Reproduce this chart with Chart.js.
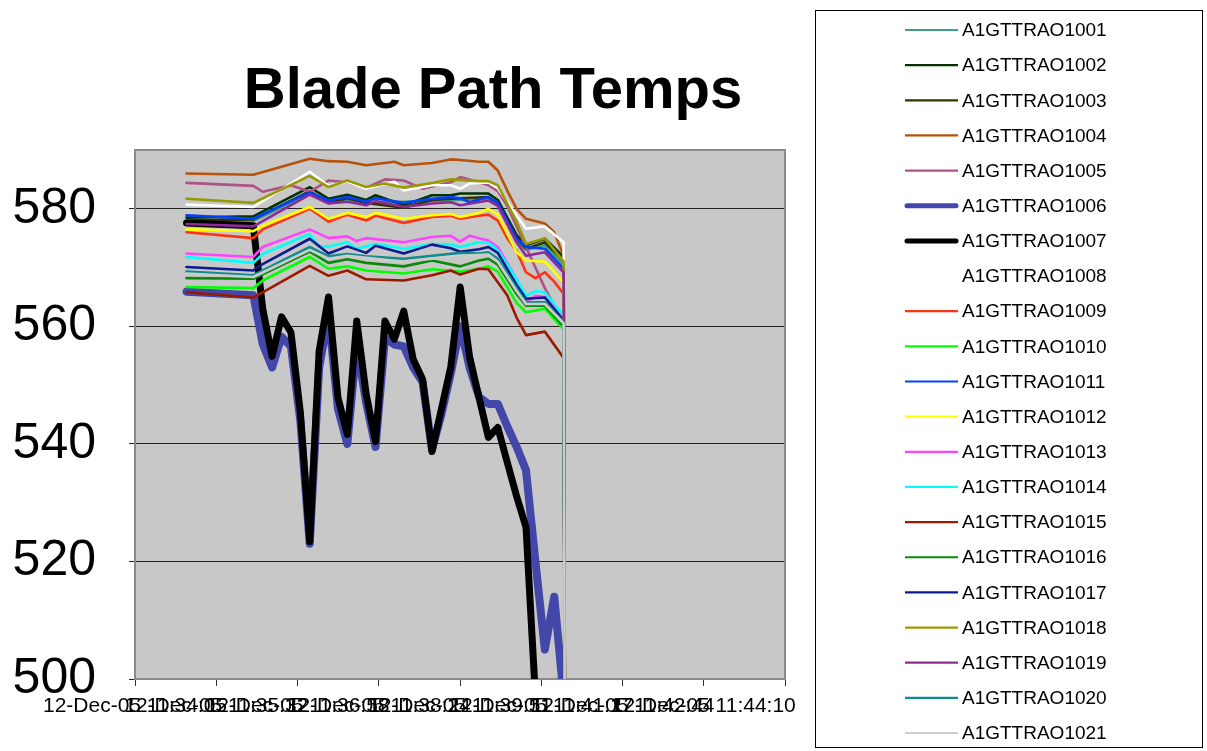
<!DOCTYPE html>
<html><head><meta charset="utf-8">
<script src="https://cdn.jsdelivr.net/npm/chart.js@4.4.1/dist/chart.umd.min.js"></script>
<style>html,body{margin:0;padding:0;background:#fff;} canvas{display:block;}</style>
</head><body>
<canvas id="c" width="1207" height="751"></canvas>
<script>
const _ = null;
const chartTitle = 'Blade Path Temps';

// sample timestamps (12-Dec-05)
const sampleTimes = ['11:35:00',
 '11:36:11','11:36:21','11:36:31','11:36:41','11:36:51',
 '11:37:01','11:37:11','11:37:21','11:37:31','11:37:41','11:37:51',
 '11:38:01','11:38:11','11:38:21','11:38:31','11:38:41','11:38:51',
 '11:39:01','11:39:11','11:39:21','11:39:31','11:39:41','11:39:51',
 '11:40:01','11:40:11','11:40:21','11:40:31','11:40:41','11:40:51',
 '11:41:01','11:41:11','11:41:21','11:41:31','11:41:41','11:41:51'];

// x axis tick labels (one every 0.001 day = 86.4 s)
const xAxisStart = '11:34:05.2';
const xTickStep = 86.4;
const xTickLabels = ['12-Dec-05 11:34:05','12-Dec-05 11:35:32','12-Dec-05 11:36:58','12-Dec-05 11:38:24',
 '12-Dec-05 11:39:51','12-Dec-05 11:41:17','12-Dec-05 11:42:44','12-Dec-05 11:44:10'];
const yTicks = [500, 520, 540, 560, 580];
const yMin = 500, yMax = 590;

const seriesNames = ['A1GTTRAO1001','A1GTTRAO1002','A1GTTRAO1003','A1GTTRAO1004','A1GTTRAO1005','A1GTTRAO1006','A1GTTRAO1007',
 'A1GTTRAO1008','A1GTTRAO1009','A1GTTRAO1010','A1GTTRAO1011','A1GTTRAO1012','A1GTTRAO1013','A1GTTRAO1014',
 'A1GTTRAO1015','A1GTTRAO1016','A1GTTRAO1017','A1GTTRAO1018','A1GTTRAO1019','A1GTTRAO1020','A1GTTRAO1021'];

const v1001 = [577.8,577.9,_,_,_,_,_,582.5,_,581.0, _,581.6,_,581.0,_,_,_,581.2,_,_, 581.3,_,_,581.5,_,_,581.8,580.8,_,574.5, 573.0,_,573.8,_,570.5,0];
const v1002 = [578.5,578.7,_,_,_,_,_,583.7,_,581.7, _,582.4,_,581.5,582.3,_,_,580.6,_,_, 582.3,_,582.3,582.6,_,_,582.6,581.5,_,575.5, 573.8,_,574.9,_,571.8,0];
const v1003 = [578.0,578.2,_,_,_,_,_,583.0,_,581.0, _,581.8,_,581.0,_,_,_,580.2,_,_, 581.5,_,_,581.8,_,_,582.0,580.8,_,575.0, 573.2,_,574.3,_,571.2,0];
const v1004 = [586.0,585.8,_,_,_,_,_,588.5,_,588.1, _,588.0,_,587.4,_,_,588.0,587.4,_,_, 587.8,_,588.4,588.3,_,588.0,588.0,586.5,583.1,580.0, 578.3,_,577.5,576.0,572.0,0];
const v1005 = [584.4,583.9,582.9,_,_,584.0,_,582.9,_,584.8, _,584.5,_,583.6,_,585.0,_,584.8,_,583.4, _,_,584.5,585.4,_,584.5,584.0,583.0,580.5,577.0, 573.5,570.0,566.5,563.5,560.5,0];
const v1006 = [565.9,565.3,557,553,558.2,556.6,544,523,553,562, 546,540,557,547,539.5,558,556.9,556.6,553,550.5, 539,545,552,560,553,548,546.8,546.8,543,539.5, 535.5,520,505,514,497,0];
const v1007 = [577.6,577.1,563,554.9,561.6,559.0,545.4,523.4,555.8,565.0, 547.9,541.6,560.9,548.5,540.4,560.9,557.8,562.6,554.4,551.0, 538.7,545.9,553.1,566.7,554.8,547.9,541.1,542.8,536.9,531.1, 525.8,497,480,470,460,0];
const v1008 = [580.7,580.3,_,_,_,_,_,586.3,_,583.9, _,584.6,_,583.4,_,_,584.6,583.1,_,_, 584.0,_,584.0,583.4,584.3,_,584.5,583.5,_,578.9, 576.6,_,577.0,_,574.3,0];
const v1009 = [576.0,575.0,576.5,_,_,_,_,580.0,_,577.8, _,579.0,_,578.0,578.8,_,_,577.6,_,_, 578.6,_,578.8,578.3,_,578.8,579.0,578.0,575.0,572.8, 569.2,568.2,569.2,567.6,565.5,0];
const v1010 = [566.7,566.5,567.8,_,_,_,_,571.8,_,569.8, _,570.2,_,569.5,_,_,_,569.0,_,_, 569.7,_,_,569.3,_,569.8,570.2,569.3,_,564.0, 562.4,_,563.0,_,559.5,0];
const v1011 = [578.9,578.3,_,_,_,_,_,582.8,_,581.4, _,582.0,_,581.2,581.8,_,_,581.0,_,_, 581.7,_,582.0,581.8,581.1,_,582.0,581.0,_,574.9, 573.5,_,573.2,_,569.8,0];
const v1012 = [576.5,576.2,577.1,_,_,_,_,580.3,_,578.3, _,579.3,_,578.6,579.3,_,_,578.3,_,_, 578.9,_,579.1,578.6,_,579.3,580.0,579.0,_,572.6, 571.2,_,571.0,_,567.5,0];
const v1013 = [572.4,571.8,573.5,_,_,_,_,576.5,_,575.0, _,575.3,574.5,575.0,_,_,_,574.3,_,_, 575.2,_,575.4,574.4,575.4,575.0,574.6,573.5,_,568.0, 564.1,565.2,565.0,_,561.8,0];
const v1014 = [571.8,570.8,572.3,_,_,_,_,575.7,573.5,573.6, _,574.3,573.2,_,574.0,_,_,573.2,_,_, 574.0,_,573.9,573.5,_,574.3,574.2,573.0,_,568.0, 565.2,566.0,565.8,_,561.8,0];
const v1015 = [565.8,564.9,_,_,_,_,_,570.3,_,568.6, _,569.5,_,568.0,_,_,_,567.8,_,_, 568.7,_,569.5,568.8,_,569.8,569.7,567.5,565.3,561.5, 558.5,_,559.1,_,554.6,0];
const v1016 = [568.2,568.1,_,_,_,_,_,572.7,_,570.8, _,571.4,_,570.8,_,_,_,570.2,_,_, 571.2,_,_,570.2,_,571.2,571.5,570.5,_,565.5, 563.5,_,563.5,_,560.0,0];
const v1017 = [570.1,569.5,570.6,_,_,_,_,574.9,_,572.4, _,573.6,_,572.5,573.7,_,_,572.4,_,_, 573.9,_,573.3,572.7,_,573.1,573.5,572.5,_,567.0, 564.7,_,564.9,_,561.0,0];
const v1018 = [581.7,581.0,_,_,_,_,_,585.6,_,583.7, _,584.8,_,583.7,_,584.3,_,583.6,_,_, 584.4,_,585.0,_,_,584.7,584.7,584.0,_,577.8, 574.0,_,575.0,_,571.0,0];
const v1019 = [577.4,577.0,_,_,_,_,_,582.4,_,580.9, _,581.2,_,580.6,581.3,_,_,580.3,_,_, 580.9,_,581.1,580.6,_,_,581.4,580.5,_,574.3, 572.0,_,572.6,_,569.2,0];
const v1020 = [569.3,568.7,_,_,_,_,_,573.5,_,571.9, _,572.3,_,571.9,_,_,_,571.5,_,_, 572.0,_,_,572.5,_,572.4,572.6,571.5,_,566.5, 564.1,_,564.1,_,560.7,0];
const v1021 = [569.0,568.4,_,_,_,_,_,573.0,_,571.5, _,572.0,_,_,_,_,_,571.0,_,_, _,_,_,572.0,_,_,572.2,571.0,_,566.0, 563.8,_,563.8,_,560.5,0];

const seriesValues = [v1001,v1002,v1003,v1004,v1005,v1006,v1007,v1008,v1009,v1010,v1011,v1012,v1013,v1014,v1015,v1016,v1017,v1018,v1019,v1020,v1021];

const seriesColors = ['#3f9f80','#003300','#333300','#b8520a','#b0528a','#4347a9','#000000','#ffffff','#ff3311','#00ff00',
 '#0040ff','#ffff00','#ff44ff','#00ffff','#9a1a00','#0a8a0a','#0a1a90','#999900','#8e2a96','#118c8c','#cccccc'];

const FONT = '"Liberation Sans", Arial, Helvetica, sans-serif';
const toSec = t => { const p = t.split(':'); return (+p[0]) * 3600 + (+p[1]) * 60 + parseFloat(p[2]); };
const xMin = toSec(xAxisStart);
const xMax = xMin + xTickLabels.length * xTickStep;

const datasets = seriesNames.map((name, i) => ({
  label: name,
  data: sampleTimes.map((t, k) => ({ x: toSec(t), y: seriesValues[i][k] })),
  borderColor: seriesColors[i],
  backgroundColor: seriesColors[i],
  borderWidth: i === 5 ? 8 : (i === 6 ? 7 : 2.6),
  pointRadius: 0,
  tension: 0,
  spanGaps: true,
  borderJoinStyle: 'round',
  borderCapStyle: 'round',
  order: seriesNames.length - i
}));

const decor = {
  id: 'decor',
  beforeDraw(chart) {
    const { ctx, chartArea: a } = chart;
    ctx.save();
    ctx.fillStyle = '#ffffff';
    ctx.fillRect(0, 0, chart.width, chart.height);
    ctx.fillStyle = '#c8c8c8';
    ctx.fillRect(a.left, a.top, a.right - a.left, a.bottom - a.top);
    ctx.restore();
  },
  beforeDatasetsDraw(chart) {
    const { ctx, chartArea: a } = chart;
    ctx.save();
    ctx.strokeStyle = '#8a8a8a';
    ctx.lineWidth = 2;
    ctx.strokeRect(a.left, a.top, a.right - a.left, a.bottom - a.top);
    ctx.restore();
  },
  afterDraw(chart) {
    const ctx = chart.ctx;
    ctx.save();
    // title
    ctx.fillStyle = '#000';
    ctx.font = 'bold 58px ' + FONT;
    ctx.textAlign = 'center';
    ctx.textBaseline = 'alphabetic';
    ctx.fillText(chartTitle, 493, 108);
    // legend box
    ctx.strokeStyle = '#000';
    ctx.lineWidth = 1;
    ctx.strokeRect(815.5, 10.5, 387, 737);
    ctx.font = '19px ' + FONT;
    ctx.textAlign = 'left';
    ctx.textBaseline = 'middle';
    chart.data.datasets.forEach((ds, i) => {
      const y = 30 + i * 35.15;
      const thick = ds.borderWidth > 5;
      ctx.beginPath();
      ctx.strokeStyle = ds.borderColor;
      ctx.lineWidth = thick ? 5 : 2.2;
      ctx.lineCap = thick ? 'round' : 'butt';
      ctx.moveTo(thick ? 907 : 905, y);
      ctx.lineTo(thick ? 956 : 958, y);
      ctx.stroke();
      ctx.fillStyle = '#000';
      ctx.fillText(ds.label, 962, y + 1);
    });
    ctx.restore();
  }
};

new Chart(document.getElementById('c'), {
  type: 'line',
  data: { datasets },
  options: {
    responsive: false,
    animation: false,
    events: [],
    layout: { padding: { top: 150, right: 422, left: 0, bottom: 0 } },
    plugins: { legend: { display: false }, title: { display: false }, tooltip: { enabled: false } },
    scales: {
      x: {
        type: 'linear', min: xMin, max: xMax,
        afterBuildTicks: s => { s.ticks = Array.from({ length: xTickLabels.length + 1 }, (u, k) => ({ value: xMin + k * xTickStep })); },
        afterFit: s => { s.height = 72; },
        ticks: {
          autoSkip: false, maxRotation: 0, minRotation: 0, padding: 8, color: '#000',
          font: { family: FONT, size: 21 },
          callback: (v, i) => (i < xTickLabels.length ? xTickLabels[i] : '')
        },
        grid: { drawOnChartArea: false, drawTicks: true, tickLength: 7, color: '#333' },
        border: { display: true, color: '#000', width: 1.5 }
      },
      y: {
        type: 'linear', min: yMin, max: yMax,
        afterBuildTicks: s => { s.ticks = yTicks.map(v => ({ value: v })); },
        afterFit: s => { s.width = 135; },
        ticks: { padding: 33, color: '#000', font: { family: FONT, size: 50 } },
        grid: { color: '#222', lineWidth: 1, drawTicks: true, tickLength: 6 },
        border: { display: true, color: '#333', width: 1.5 }
      }
    }
  },
  plugins: [decor]
});
</script>
</body></html>
